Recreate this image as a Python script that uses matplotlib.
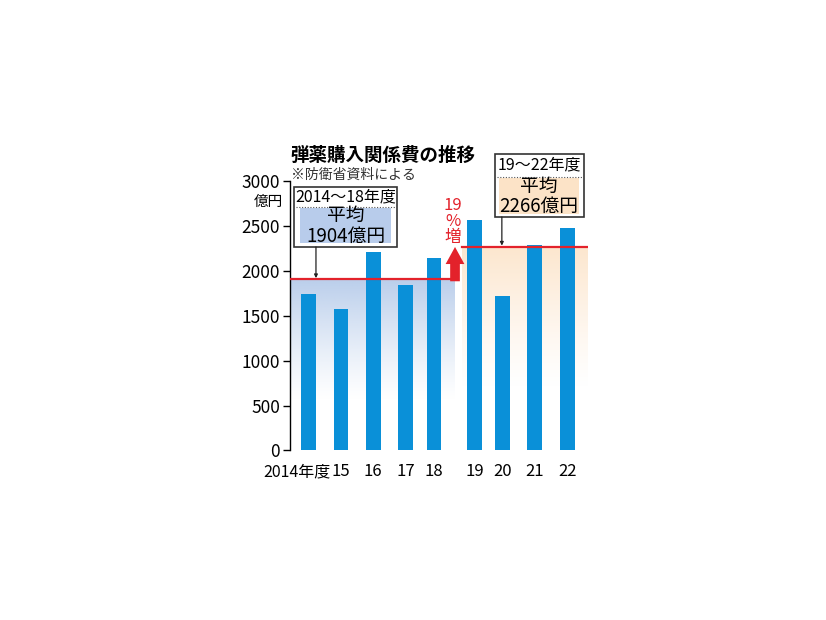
import numpy as np
import matplotlib
matplotlib.use("Agg")
import matplotlib.pyplot as plt
import matplotlib.transforms as mtransforms
from matplotlib.patches import Rectangle, FancyArrow

plt.rcParams['font.family'] = ['Noto Sans CJK JP', 'DejaVu Sans']

# data
years = ["2014年度", "15", "16", "17", "18", "19", "20", "21", "22"]
values = [1745, 1570, 2210, 1848, 2147, 2570, 1725, 2290, 2480]
avg_before = 1904
avg_after = 2266
increase_pct = 19
yticks = [0, 500, 1000, 1500, 2000, 2500, 3000]

# layout
xpos = [0, 1, 2, 3, 3.88, 5.14, 6, 7, 8]
BAR_COLOR = "#0a90d8"
RED = "#e3222b"
BLUE_BG = np.array([0.72, 0.80, 0.92])
ORANGE_BG = np.array([0.99, 0.89, 0.78])
XMIN, XMAX = -0.58, 8.65
SPLIT_L, SPLIT_R = 4.5, 4.75

fig = plt.figure(figsize=(8.26, 6.2), dpi=100)
ax = fig.add_axes([0.351, 0.2734, 0.361, 0.4346])


def gradient(x0, x1, ytop, ybot, color, a0=0.95):
    n = 100
    img = np.ones((n, 1, 4))
    img[:, 0, :3] = color
    img[:, 0, 3] = a0 * np.linspace(1.0, 0.0, n) ** 1.2
    ax.imshow(img, extent=[x0, x1, ybot, ytop], aspect="auto", zorder=0,
              interpolation="bilinear")


gradient(XMIN, SPLIT_L, avg_before, 550, BLUE_BG)
gradient(SPLIT_R, XMAX, avg_after, 700, ORANGE_BG, 0.85)

ax.bar(xpos, values, width=0.46, color=BAR_COLOR, zorder=2)

ax.plot([XMIN, SPLIT_L], [avg_before, avg_before], color=RED, lw=1.6, zorder=3)
ax.plot([SPLIT_R, XMAX], [avg_after, avg_after], color=RED, lw=1.6, zorder=3)

ax.set_xlim(XMIN, XMAX)
ax.set_ylim(0, 3000)
ax.set_yticks(yticks)
ax.set_yticklabels([str(v) for v in yticks], fontsize=12.5)
ax.set_xticks(xpos)
ax.set_xticklabels(years, fontsize=12)
ax.tick_params(axis="x", length=0, pad=9)
ax.tick_params(axis="y", length=5, width=1, pad=2)
# first label sits a little left of its bar
first = ax.get_xticklabels()[0]
first.set_fontsize(11.5)
first.set_transform(first.get_transform() +
                    mtransforms.ScaledTranslation(-0.12, 0, fig.dpi_scale_trans))
for s in ["top", "right", "bottom"]:
    ax.spines[s].set_visible(False)
ax.spines["left"].set_linewidth(1)
ax.text(-0.023, 2770, "億円", transform=ax.get_yaxis_transform(),
        ha="right", va="center", fontsize=10.5)

# left annotation box
ax.add_patch(Rectangle((-0.455, 2266), 3.185, 668, fill=True, fc="white",
                       ec="#333333", lw=1.2, zorder=4, clip_on=False))
ax.add_patch(Rectangle((-0.27, 2311), 2.82, 389, fc=BLUE_BG, ec="none",
                       zorder=5, clip_on=False))
ax.plot([-0.40, 2.68], [2711, 2711], color="#555555", lw=0.8, ls=(0, (1, 1.5)),
        zorder=5, clip_on=False)
ax.text(1.14, 2823, "2014〜18年度", ha="center", va="center", fontsize=11.5,
        zorder=6)
ax.text(1.14, 2500, "平均\n1904億円", ha="center", va="center", fontsize=13.5,
        linespacing=0.95, zorder=6)
ax.annotate("", xy=(0.226, avg_before + 15), xytext=(0.226, 2266),
            arrowprops=dict(arrowstyle="-|>", color="#222222", lw=0.9,
                            mutation_scale=5, shrinkA=0, shrinkB=0), zorder=6)

# right annotation box
ax.add_patch(Rectangle((5.77, 2600), 2.75, 702, fc="white", ec="#333333",
                       lw=1.2, zorder=4, clip_on=False))
ax.add_patch(Rectangle((5.89, 2634), 2.48, 400, fc=ORANGE_BG, ec="none",
                       zorder=5, clip_on=False))
ax.plot([5.83, 8.46], [3046, 3046], color="#555555", lw=0.8, ls=(0, (1, 1.5)),
        zorder=5, clip_on=False)
ax.text(7.15, 3180, "19〜22年度", ha="center", va="center", fontsize=11.5,
        zorder=6, clip_on=False)
ax.text(7.13, 2830, "平均\n2266億円", ha="center", va="center", fontsize=13.5,
        linespacing=0.95, zorder=6, clip_on=False)
ax.annotate("", xy=(5.98, avg_after + 15), xytext=(5.98, 2600),
            arrowprops=dict(arrowstyle="-|>", color="#222222", lw=0.9,
                            mutation_scale=5, shrinkA=0, shrinkB=0), zorder=6)

# increase arrow
ax.add_patch(FancyArrow(4.53, avg_before - 20, 0, avg_after - avg_before + 20,
                        width=0.3, head_width=0.58, head_length=190,
                        length_includes_head=True, fc=RED, ec="none", zorder=3))
ax.text(4.47, 2545, f"{increase_pct}\n%\n増", ha="center", va="center",
        color=RED, fontsize=12, linespacing=0.92, zorder=6)

# title
fig.text(0.352, 0.741, "弾薬購入関係費の推移", fontsize=13.3, fontweight="bold",
         ha="left", va="baseline")
fig.text(0.352, 0.712, "※防衛省資料による", fontsize=10, ha="left",
         va="baseline", color="#333333")

fig.savefig("out.png", dpi=100)
